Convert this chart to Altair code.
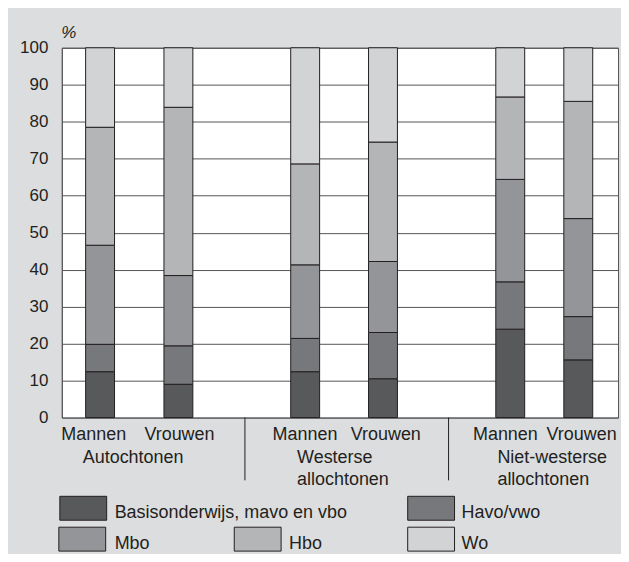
import altair as alt
import pandas as pd

# ---- data ----
groups = ["Autochtonen", "Autochtonen", "Westerse allochtonen", "Westerse allochtonen",
          "Niet-westerse allochtonen", "Niet-westerse allochtonen"]
sexes = ["Mannen", "Vrouwen", "Mannen", "Vrouwen", "Mannen", "Vrouwen"]
levels = ["Basisonderwijs, mavo en vbo", "Havo/vwo", "Mbo", "Hbo", "Wo"]
basis = [12.4, 9.0, 12.4, 10.5, 23.9, 15.6]
havo = [7.4, 10.4, 9.0, 12.5, 12.8, 11.7]
mbo = [26.8, 19.0, 19.9, 19.2, 27.7, 26.5]
hbo = [31.9, 45.5, 27.3, 32.3, 22.3, 31.7]
wo = [21.5, 16.1, 31.4, 25.5, 13.3, 14.5]
colors = ["#58595b", "#77787b", "#939598", "#b3b5b7", "#d1d3d4"]

# ---- layout (pixel positions inside the plot area) ----
W, H = 558, 371
bar_x = [34, 114, 243.5, 323, 453, 522.5]
bar_label_x = [32, 118, 244, 325, 445, 521.5]
group_lines = [["Autochtonen"], ["Westerse", "allochtonen"], ["Niet-westerse", "allochtonen"]]
group_label_x = [21, 236, 437]
sep_x = [183.7, 388]
legend_pos = {  # x, y of swatch top-left; label x
    "Basisonderwijs, mavo en vbo": (-2, 450, 53),
    "Havo/vwo": (347, 450, 401),
    "Mbo": (-3, 481, 53),
    "Hbo": (173, 481, 228),
    "Wo": (347, 481, 401),
}

series = [basis, havo, mbo, hbo, wo]
rows = []
for i in range(len(sexes)):
    for j, lev in enumerate(levels):
        rows.append({"bar": i, "group": groups[i], "sex": sexes[i], "level": lev,
                     "idx": j, "value": series[j][i], "xpos": bar_x[i]})
df = pd.DataFrame(rows)

FONT = "Liberation Sans"
TXT = "#231f20"
LINE = "#555557"

color_scale = alt.Scale(domain=levels, range=colors)

bars = alt.Chart(df).mark_bar(size=29, stroke=TXT, strokeWidth=1).encode(
    x=alt.X("xpos:Q", scale=alt.Scale(domain=[0, W]), axis=None),
    y=alt.Y("value:Q", stack="zero", scale=alt.Scale(domain=[0, 100], nice=False),
            axis=alt.Axis(values=list(range(0, 101, 10)), labelFontSize=17, labelFont=FONT,
                          labelColor=TXT, labelPadding=14, ticks=False, domain=True,
                          domainColor=LINE, grid=True, gridColor=LINE, gridWidth=1,
                          gridOpacity=1, title="%", titleAngle=0, titleFontStyle="italic",
                          titleFontWeight="normal", titleFont=FONT, titleFontSize=17,
                          titleColor=TXT, titleX=-1, titleY=-15, titleAlign="left",
                          titleBaseline="middle")),
    color=alt.Color("level:N", scale=color_scale, legend=None),
    order=alt.Order("idx:Q", sort="ascending"),
)

bl = pd.DataFrame({"label": sexes, "lx": bar_label_x})
bar_labels = alt.Chart(bl).mark_text(font=FONT, fontSize=18, color=TXT, align="center",
                                     baseline="middle").encode(
    x=alt.X("lx:Q", scale=None), y=alt.value(389), text="label:N")

gl_rows = []
for k, lines in enumerate(group_lines):
    for m, t in enumerate(lines):
        gl_rows.append({"label": t, "lx": group_label_x[k], "ly": 412 + 22 * m})
gl = pd.DataFrame(gl_rows)
group_labels = alt.Chart(gl).mark_text(font=FONT, fontSize=18, color=TXT, align="left",
                                       baseline="middle").encode(
    x=alt.X("lx:Q", scale=None), y=alt.Y("ly:Q", scale=None), text="label:N")

seps = alt.Chart(pd.DataFrame({"sx": sep_x})).mark_rule(color=TXT, strokeWidth=1).encode(
    x=alt.X("sx:Q", scale=None), y=alt.value(H), y2=alt.value(434))

lg = pd.DataFrame([{"level": k, "x0": v[0], "x1": v[0] + 47, "y0": v[1], "y1": v[1] + 24,
                    "tx": v[2], "ty": v[1] + 17} for k, v in legend_pos.items()])
leg_rects = alt.Chart(lg).mark_rect(stroke=TXT, strokeWidth=1).encode(
    x=alt.X("x0:Q", scale=None), x2="x1:Q", y=alt.Y("y0:Q", scale=None), y2="y1:Q",
    color=alt.Color("level:N", scale=color_scale, legend=None))
leg_text = alt.Chart(lg).mark_text(font=FONT, fontSize=18, color=TXT, align="left",
                                   baseline="middle").encode(
    x=alt.X("tx:Q", scale=None), y=alt.Y("ty:Q", scale=None), text="level:N")

chart = alt.layer(bars, bar_labels, group_labels, seps, leg_rects, leg_text).properties(
    width=W, height=H,
    autosize=alt.AutoSizeParams(type="none"),
    padding={"left": 54, "top": 39, "right": 3, "bottom": 136},
).configure(background="#dcdddf").configure_view(fill="white", stroke=LINE, strokeWidth=1)

chart.save("out.html", embed_options={"renderer": "svg", "actions": False})
